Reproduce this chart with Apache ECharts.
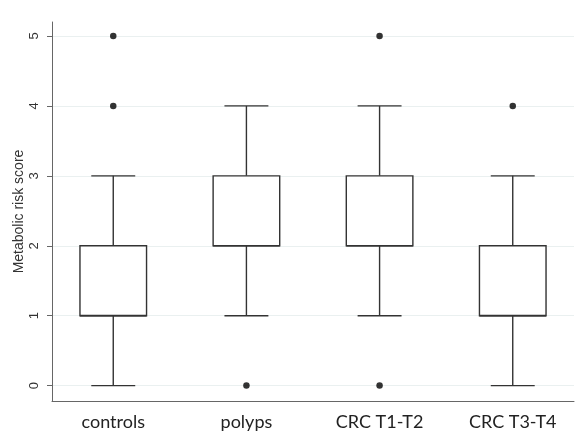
<!DOCTYPE html>
<html>
<head>
<meta charset="utf-8">
<script src="https://cdn.jsdelivr.net/npm/echarts@6/dist/echarts.min.js"></script>
<style>html,body{margin:0;padding:0;background:#fff}#c{width:584px;height:434px}</style>
</head>
<body>
<div id="c"></div>
<script>
const categories = ['controls', 'polyps', 'CRC T1-T2', 'CRC T3-T4'];
const whiskerLow = [0, 1, 1, 0];
const q1 = [1, 2, 2, 1];
const median = [1, 2, 2, 1];
const q3 = [2, 3, 3, 2];
const whiskerHigh = [3, 4, 4, 3];
const outliers = [[0, 4], [0, 5], [1, 0], [2, 0], [2, 5], [3, 4]];
const yTicks = [0, 1, 2, 3, 4, 5];

const boxData = categories.map((c, i) => [i, whiskerLow[i], q1[i], median[i], q3[i], whiskerHigh[i]]);

const chart = echarts.init(document.getElementById('c'), null, {renderer: 'canvas'});
const lineStyle = {stroke: '#333', lineWidth: 1.4, fill: null};

chart.setOption({
  animation: false,
  backgroundColor: '#fff',
  grid: {left: 52, right: 10, top: 22, bottom: 33, containLabel: false, outerBoundsMode: 'none'},
  xAxis: {
    type: 'value', min: -0.46, max: 3.46,
    axisLine: {show: true, onZero: false, lineStyle: {color: '#666', width: 1}},
    axisTick: {show: false},
    splitLine: {show: false},
    axisLabel: {
      customValues: [0, 1, 2, 3],
      formatter: v => categories[Math.round(v)],
      fontFamily: 'Lato, "Open Sans", sans-serif', fontSize: 18, color: '#222', margin: 12
    }
  },
  yAxis: {
    type: 'value', min: -0.22, max: 5.2,
    name: 'Metabolic risk score', nameLocation: 'middle', nameGap: 26, nameMoveOverlap: false,
    nameTextStyle: {fontFamily: '"Liberation Sans", Arial, sans-serif', fontSize: 14, color: '#333'},
    axisLine: {show: true, onZero: false, lineStyle: {color: '#666', width: 1}},
    axisTick: {show: true, customValues: yTicks, length: 5, lineStyle: {color: '#666'}},
    axisLabel: {
      customValues: yTicks, rotate: 90, margin: 11,
      fontFamily: '"Liberation Sans", Arial, sans-serif', fontSize: 13, color: '#333'
    },
    splitLine: {show: true, lineStyle: {color: '#eaf0f0', width: 1.2}}
  },
  series: [
    {
      type: 'custom',
      data: boxData,
      encode: {x: 0, y: [1, 2, 3, 4, 5]},
      renderItem: function (params, api) {
        const x = api.value(0);
        const lo = api.coord([x, api.value(1)]);
        const b1 = api.coord([x, api.value(2)]);
        const md = api.coord([x, api.value(3)]);
        const b3 = api.coord([x, api.value(4)]);
        const hi = api.coord([x, api.value(5)]);
        const halfBox = api.size([0.5, 0])[0] / 2;
        const halfCap = api.size([0.33, 0])[0] / 2;
        const cx = lo[0];
        return {
          type: 'group',
          children: [
            {type: 'line', shape: {x1: cx, y1: lo[1], x2: cx, y2: b1[1]}, style: lineStyle},
            {type: 'line', shape: {x1: cx, y1: b3[1], x2: cx, y2: hi[1]}, style: lineStyle},
            {type: 'line', shape: {x1: cx - halfCap, y1: lo[1], x2: cx + halfCap, y2: lo[1]}, style: lineStyle},
            {type: 'line', shape: {x1: cx - halfCap, y1: hi[1], x2: cx + halfCap, y2: hi[1]}, style: lineStyle},
            {type: 'rect', shape: {x: cx - halfBox, y: b3[1], width: halfBox * 2, height: b1[1] - b3[1]},
              style: {stroke: '#333', lineWidth: 1.4, fill: '#fff'}},
            {type: 'line', shape: {x1: cx - halfBox, y1: md[1], x2: cx + halfBox, y2: md[1]},
              style: {stroke: '#333', lineWidth: 1.7, fill: null}}
          ]
        };
      }
    },
    {
      type: 'scatter',
      data: outliers,
      symbol: 'circle',
      symbolSize: 6.5,
      itemStyle: {color: '#000'}
    }
  ]
});
</script>
</body>
</html>
